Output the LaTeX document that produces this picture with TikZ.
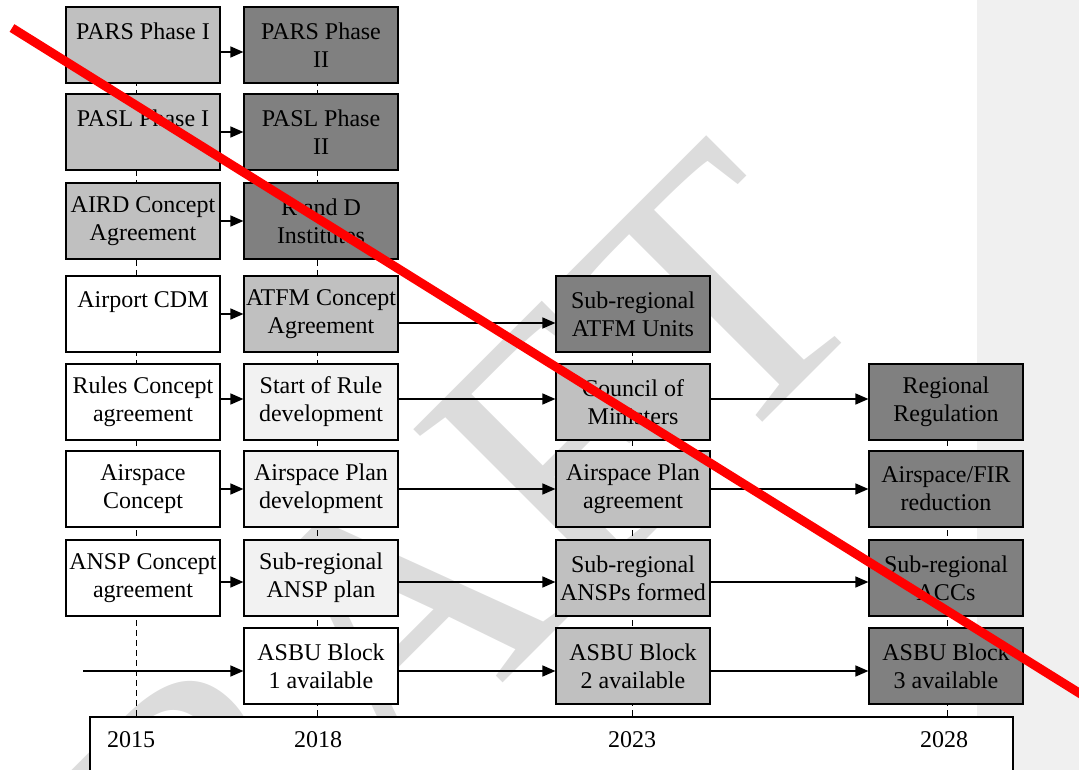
\documentclass[tikz,border=0pt]{standalone}
\usepackage{fontspec}
\setmainfont{Liberation Serif}
\usetikzlibrary{arrows.meta,positioning,backgrounds}
\definecolor{planfill}{HTML}{F2F2F2}
\definecolor{agreefill}{HTML}{C0C0C0}
\definecolor{donefill}{HTML}{808080}
\definecolor{marginfill}{HTML}{F0F0F0}
\definecolor{wmark}{HTML}{DCDCDC}
\tikzstyle{every node}=[font=\fontsize{24}{28}\selectfont]
\tikzstyle{stage}=[draw,line width=1.2pt,minimum width=154pt,minimum height=76pt,inner sep=0pt,align=center]
\tikzstyle{newbox}=[stage,fill=white]
\tikzstyle{planbox}=[stage,fill=planfill]
\tikzstyle{agreebox}=[stage,fill=agreefill]
\tikzstyle{donebox}=[stage,fill=donefill]
\tikzstyle{flow}=[-{Triangle[length=13pt,width=11pt]},line width=1.5pt]
\tikzstyle{guide}=[line width=1pt,dash pattern=on 6pt off 4pt]

\begin{document}
\begin{tikzpicture}[x=1pt,y=-1pt]
\useasboundingbox (0,0) rectangle (1079,770);
\clip (0,0) rectangle (1079,770);

% 2015
\node[agreebox] (pars1) at (143,45) {PARS Phase I\\\mbox{}};
\node[agreebox] (pasl1) at (143,132) {PASL Phase I\\\mbox{}};
\node[agreebox] (aird) at (143,221) {AIRD Concept\\Agreement};
\node[newbox] (cdm) at (143,314) {Airport CDM\\\mbox{}};
\node[newbox] (rules) at (143,402) {Rules Concept\\agreement};
\node[newbox] (aspc) at (143,489) {Airspace\\Concept};
\node[newbox] (ansp) at (143,578) {ANSP Concept\\agreement};
\coordinate (asbu0) at (83,666);

% 2018
\node[donebox] (pars2) at (321,45) {PARS Phase\\II};
\node[donebox] (pasl2) at (321,132) {PASL Phase\\II};
\node[donebox] (rnd) at (321,221) {R and D\\Institutes};
\node[agreebox] (atfm) at (321,314) {ATFM Concept\\Agreement};
\node[planbox] (rulestart) at (321,402) {Start of Rule\\development};
\node[planbox] (aspdev) at (321,489) {Airspace Plan\\development};
\node[planbox] (ansplan) at (321,578) {Sub-regional\\ANSP plan};
\node[newbox] (asbu1) at (321,666) {ASBU Block\\1 available};

% 2023
\node[donebox] (atfmu) at (633,314) {Sub-regional\\ATFM Units};
\node[agreebox] (council) at (633,402) {Council of\\Ministers};
\node[agreebox] (aspagr) at (633,489) {Airspace Plan\\agreement};
\node[agreebox] (anspf) at (633,578) {Sub-regional\\ANSPs formed};
\node[agreebox] (asbu2) at (633,666) {ASBU Block\\2 available};

% 2028
\node[donebox] (regreg) at (946,402) {Regional\\Regulation};
\node[donebox] (firred) at (946,489) {Airspace/FIR\\reduction};
\node[donebox] (accs) at (946,578) {Sub-regional\\ACCs};
\node[donebox] (asbu3) at (946,666) {ASBU Block\\3 available};

% time axis
\node[draw,fill=white,line width=1.2pt,minimum width=923pt,minimum height=90pt,inner sep=0pt] (axis) at (551.5,762) {};
\node (y2015) at (131,740) {2015};
\node (y2018) at (318,740) {2018};
\node (y2023) at (632,740) {2023};
\node (y2028) at (944,740) {2028};

\draw[flow] ([yshift=-7pt]pars1.east) -- ([yshift=-7pt]pars2.west);
\draw[flow] (pasl1) -- (pasl2);
\draw[flow] (aird) -- (rnd);
\draw[flow] (cdm) -- (atfm);
\draw[flow] ([yshift=-9pt]atfm.east) -- ([yshift=-9pt]atfmu.west);
\draw[flow] ([yshift=3pt]rules.east) -- ([yshift=3pt]rulestart.west);
\draw[flow] ([yshift=3pt]rulestart.east) -- ([yshift=3pt]council.west);
\draw[flow] ([yshift=3pt]council.east) -- ([yshift=3pt]regreg.west);
\draw[flow] (aspc) -- (aspdev);
\draw[flow] (aspdev) -- (aspagr);
\draw[flow] (aspagr) -- (firred);
\draw[flow] ([yshift=-4pt]ansp.east) -- ([yshift=-4pt]ansplan.west);
\draw[flow] ([yshift=-4pt]ansplan.east) -- ([yshift=-4pt]anspf.west);
\draw[flow] ([yshift=-4pt]anspf.east) -- ([yshift=-4pt]accs.west);
\draw[flow] ([yshift=-5pt]asbu0) -- ([yshift=-5pt]asbu1.west);
\draw[flow] ([yshift=-5pt]asbu1.east) -- ([yshift=-5pt]asbu2.west);
\draw[flow] ([yshift=-5pt]asbu2.east) -- ([yshift=-5pt]asbu3.west);

\begin{scope}[on background layer]
\fill[marginfill] (977,0) rectangle (1079,770);
\node[rotate=45,anchor=north east,inner sep=0pt,text=wmark,font=\fontsize{370}{370}\selectfont] (wm) at (710,130) {DRAFT};
\coordinate (t2015) at (136,20);
\coordinate (t2018) at (317,20);
\coordinate (t2023) at (632,300);
\coordinate (t2028) at (947,400);
\foreach \t in {t2015,t2018,t2023,t2028}
  \draw[guide] (\t) -- (\t |- axis.north);
\end{scope}

\draw[red,line width=9pt] (12,28) -- (1100,706);
\end{tikzpicture}
\end{document}
